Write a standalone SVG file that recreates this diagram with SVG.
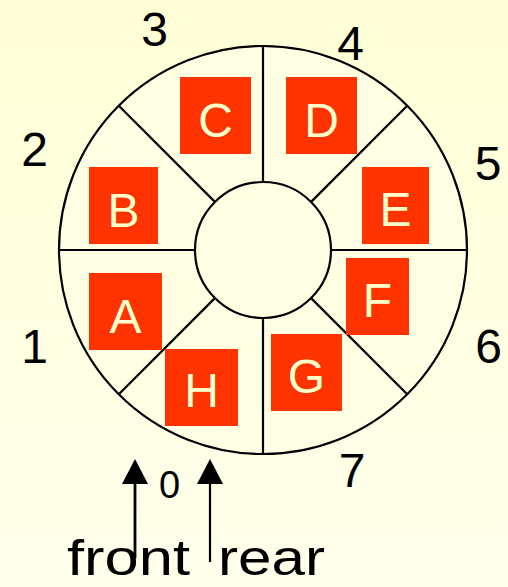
<svg xmlns="http://www.w3.org/2000/svg" width="508" height="587" viewBox="0 0 508 587">
  <defs>
    <linearGradient id="bg" x1="0" y1="0" x2="0" y2="1">
      <stop offset="0" stop-color="#FFFFD6"/>
      <stop offset="1" stop-color="#FFFFEC"/>
    </linearGradient>
    <marker id="ah" viewBox="0 0 25 26" refX="13" refY="13" markerWidth="25" markerHeight="26" markerUnits="userSpaceOnUse" orient="auto">
      <path d="M0,0 L25,13 L0,26 Z" fill="#000"/>
    </marker>
  </defs>
  <style>
    .ring { fill: #FFFFE4; stroke: #000; stroke-width: 2.2; }
    .spoke { stroke: #000; stroke-width: 2.2; }
    .box { fill: #FF3300; }
    .let { font-family: "Liberation Sans", "DejaVu Sans", sans-serif; font-size: 48px; fill: #FFFFCC; text-anchor: middle; }
    .num { font-family: "Liberation Sans", "DejaVu Sans", sans-serif; font-size: 48px; fill: #000; text-anchor: middle; }
    .lbl { font-family: "Liberation Sans", "DejaVu Sans", sans-serif; font-size: 50px; fill: #000; }
    .arr { stroke: #000; fill: none; }
  </style>
  <rect x="0" y="0" width="508" height="587" fill="url(#bg)"/>

  <g id="ring">
    <circle class="ring" cx="263" cy="250" r="204"/>
    <line class="spoke" x1="263" y1="46" x2="263" y2="182"/>
    <line class="spoke" x1="263" y1="318" x2="263" y2="454"/>
    <line class="spoke" x1="59" y1="250" x2="195" y2="250"/>
    <line class="spoke" x1="331" y1="250" x2="467" y2="250"/>
    <line class="spoke" x1="118.8" y1="105.8" x2="214.9" y2="201.9"/>
    <line class="spoke" x1="311.1" y1="298.1" x2="407.2" y2="394.2"/>
    <line class="spoke" x1="407.2" y1="105.8" x2="311.1" y2="201.9"/>
    <line class="spoke" x1="214.9" y1="298.1" x2="118.8" y2="394.2"/>
    <circle class="ring" cx="263" cy="250" r="68"/>
  </g>

  <g id="node-C"><rect class="box" x="180" y="77" width="71" height="77"/><text class="let" x="215.5" y="137">C</text></g>
  <g id="node-D"><rect class="box" x="286" y="77" width="71" height="77"/><text class="let" x="321.5" y="137">D</text></g>
  <g id="node-B"><rect class="box" x="89" y="167" width="69" height="77"/><text class="let" x="123.5" y="227">B</text></g>
  <g id="node-E"><rect class="box" x="362" y="167" width="67" height="77"/><text class="let" x="395.5" y="226">E</text></g>
  <g id="node-A"><rect class="box" x="89" y="273" width="73" height="77"/><text class="let" x="125.5" y="333">A</text></g>
  <g id="node-F"><rect class="box" x="346" y="258" width="63" height="77"/><text class="let" x="377.5" y="317">F</text></g>
  <g id="node-H"><rect class="box" x="165" y="349" width="73" height="77"/><text class="let" x="201.5" y="407">H</text></g>
  <g id="node-G"><rect class="box" x="271" y="334" width="71" height="77"/><text class="let" x="306.5" y="393">G</text></g>

  <g id="labels">
    <text class="num" x="154.5" y="46">3</text>
    <text class="num" x="350.5" y="60">4</text>
    <text class="num" x="34.5" y="166">2</text>
    <text class="num" x="488" y="180">5</text>
    <text class="num" x="34.5" y="363">1</text>
    <text class="num" x="488.5" y="363">6</text>
    <text class="num" x="352" y="487">7</text>
    <text class="num" x="169.5" y="498" style="font-size:38px">0</text>
  </g>

  <g id="pointer-front"><text class="lbl" x="67" y="575" textLength="123" lengthAdjust="spacingAndGlyphs">front</text></g>
  <g id="pointer-rear"><text class="lbl" x="218" y="575" textLength="107" lengthAdjust="spacingAndGlyphs">rear</text></g>

  <g id="connectors">
    <line class="arr" stroke-width="2.8" x1="135" y1="558" x2="135" y2="471" marker-end="url(#ah)"/>
    <line class="arr" stroke-width="2.2" x1="210" y1="562" x2="210" y2="471" marker-end="url(#ah)"/>
  </g>
</svg>
